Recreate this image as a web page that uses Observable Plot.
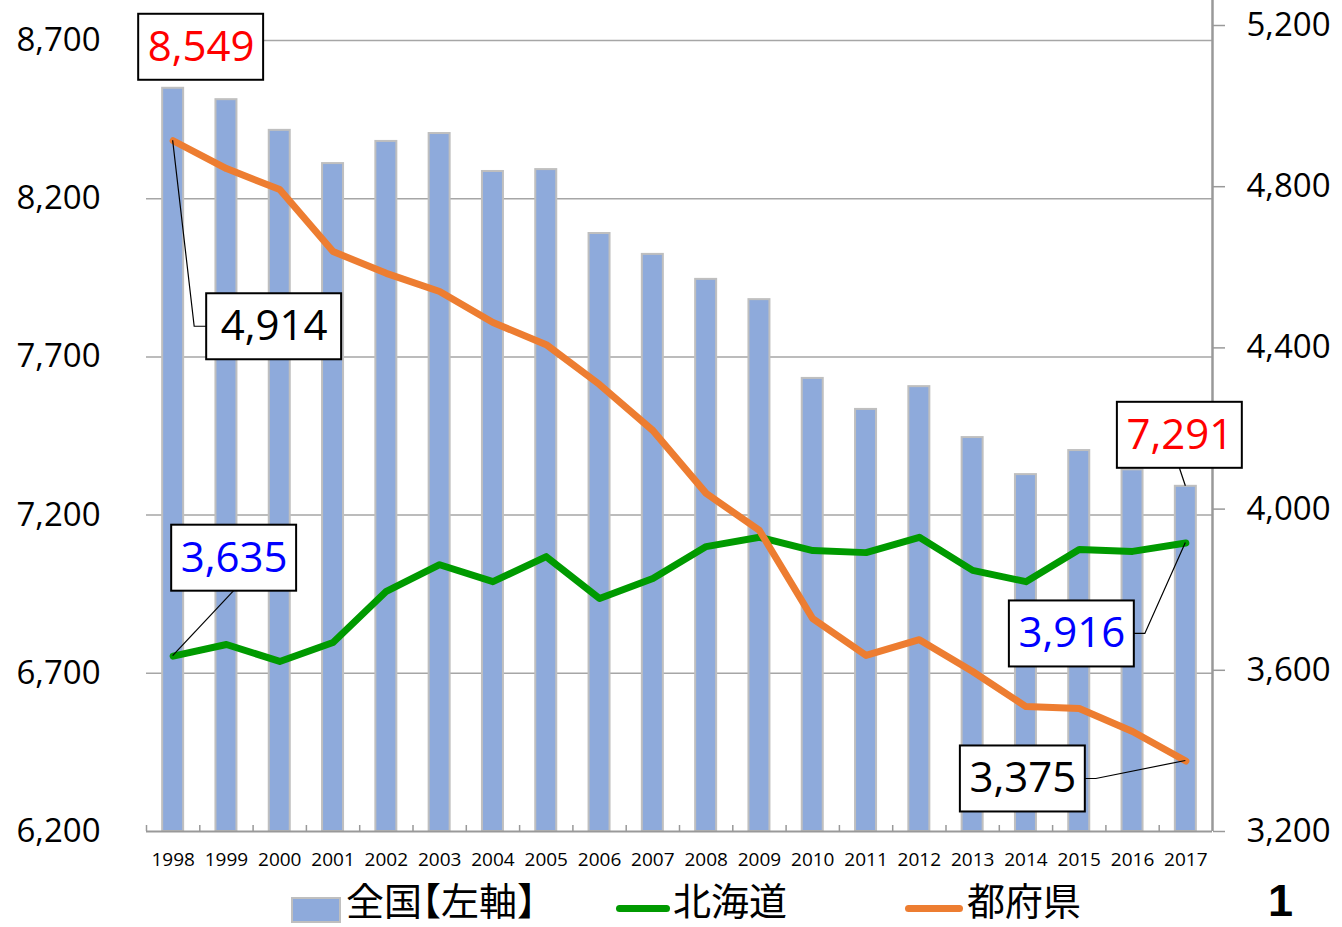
<!DOCTYPE html>
<html><head><meta charset="utf-8">
<script src="https://cdn.jsdelivr.net/npm/d3@7"></script>
<script src="https://cdn.jsdelivr.net/npm/@observablehq/plot@0.6"></script>
<style>
body{margin:0;background:#fff;}
#wrap{position:relative;width:1342px;height:927px;overflow:hidden;}
.lg{position:absolute;font-family:"Noto Sans CJK JP";font-size:38px;line-height:40px;color:#000;white-space:nowrap;}
.br{font-feature-settings:"halt";}
</style></head><body><div id="wrap"></div>
<script>
// ---- data ----
const years = ["1998","1999","2000","2001","2002","2003","2004","2005","2006","2007","2008","2009","2010","2011","2012","2013","2014","2015","2016","2017"];
const zenkoku = [8549, 8513, 8416, 8311, 8381, 8406, 8286, 8292, 8090, 8024, 7945, 7881, 7632, 7534, 7606, 7445, 7328, 7404, 7343, 7291];
const hokkaido = [3635, 3664, 3622, 3669, 3796, 3862, 3820, 3882, 3778, 3828, 3907, 3930, 3897, 3892, 3930, 3848, 3820, 3900, 3895, 3916];
const tofuken = [4914, 4845, 4793, 4639, 4585, 4540, 4463, 4408, 4309, 4195, 4039, 3947, 3728, 3637, 3676, 3597, 3510, 3505, 3448, 3375];
const leftTicks = [6200, 6700, 7200, 7700, 8200, 8700];
const rightTicks = [3200, 3600, 4000, 4400, 4800, 5200];
const seriesNames = ["全国【左軸】", "北海道", "都府県"];
const pageNumber = "1";
// annotation labels
const annSeries = ["zenkoku", "tofuken", "hokkaido", "zenkoku", "hokkaido", "tofuken"];
const annYears = ["1998", "1998", "1998", "2017", "2017", "2017"];
const annValues = [8549, 4914, 3635, 7291, 3916, 3375];
const annColors = ["#ff0000", "#000000", "#0000ff", "#ff0000", "#0000ff", "#000000"];

// ---- layout (pixels) ----
const W = 1342, H = 927;
const plotLeft = 146, plotRight = 1212, plotBottom = 831;
const leftTopTickPx = 40, rightTopTickPx = 25;
const annOffsets = [[28, -41], [101, 186], [61, -98], [-6, -51], [-114, 91], [-163, 18]];
const annPadX = [9, 14, 9, 9, 9, 9];
const annLeaders = ["none", "elbowLeft", "bottom", "bottom", "elbowRight", "elbowRight"];

const leftK = (plotBottom - leftTopTickPx) / (leftTicks.at(-1) - leftTicks[0]);
const rightK = (plotBottom - rightTopTickPx) / (rightTicks.at(-1) - rightTicks[0]);
const toL = r => leftTicks[0] + (r - rightTicks[0]) * rightK / leftK;
const fromL = l => rightTicks[0] + (l - leftTicks[0]) * leftK / rightK;
const yTop = leftTicks[0] + plotBottom / leftK;
const step = (plotRight - plotLeft) / years.length;
const fmt = d3.format(",");

const rows = years.map((y, i) => ({year: y, zenkoku: zenkoku[i], hokkaido: hokkaido[i], tofuken: tofuken[i]}));
const anns = annYears.map((y, i) => ({year: y, series: annSeries[i], value: annValues[i], color: annColors[i],
  ly: annSeries[i] === "zenkoku" ? annValues[i] : toL(annValues[i])}));

const chart = Plot.plot({
  width: W, height: H,
  marginLeft: plotLeft, marginRight: W - plotRight, marginTop: 0, marginBottom: H - plotBottom,
  x: {type: "band", domain: years, paddingInner: 0.606, paddingOuter: 0.303, round: false, axis: null},
  y: {domain: [leftTicks[0], yTop], axis: null},
  style: {fontFamily: "'Open Sans'", color: "#000", background: "#fff", overflow: "visible"},
  marks: [
    Plot.ruleY(leftTicks.slice(1), {stroke: "#a6a6a6", strokeWidth: 1.5}),
    Plot.barY(rows, {x: "year", y1: () => leftTicks[0], y2: "zenkoku", fill: "#8eaadb", stroke: "#bfbfbf", strokeWidth: 2}),
    Plot.ruleY([leftTicks[0]], {stroke: "#999", strokeWidth: 2}),
    Plot.ruleX(years, {x: d => d, dx: -step / 2, y1: leftTicks[0], y2: leftTicks[0] + 6 / leftK, stroke: "#999", strokeWidth: 1.5}),
    Plot.ruleX([years.at(-1)], {x: d => d, dx: step / 2, y1: leftTicks[0], y2: yTop, stroke: "#999", strokeWidth: 2.5}),
    Plot.line(rows, {x: "year", y: d => toL(d.hokkaido), stroke: "#009a00", strokeWidth: 7, strokeLinejoin: "round", strokeLinecap: "round"}),
    Plot.line(rows, {x: "year", y: d => toL(d.tofuken), stroke: "#ed7d31", strokeWidth: 7, strokeLinejoin: "round", strokeLinecap: "round"}),
    Plot.axisY({anchor: "left", ticks: leftTicks, tickSize: 0, tickPadding: 46, fontSize: 33, tickFormat: fmt, label: null}),
    Plot.axisY({anchor: "right", ticks: rightTicks.map(toL), tickSize: 12, tickPadding: 22, fontSize: 33, stroke: "#999", strokeWidth: 1.5,
      tickFormat: d => fmt(Math.round(fromL(d))), label: null}),
    Plot.axisX({anchor: "bottom", tickSize: 0, tickPadding: 21, fontSize: 19, tickFormat: d => d, label: null}),
    ...anns.map((a, i) => Plot.text([a], {x: "year", y: "ly", text: d => fmt(d.value), fill: a.color,
      dx: annOffsets[i][0], dy: annOffsets[i][1], fontSize: 42, fontFamily: "'Open Sans'"}))
  ]
});
const wrap = document.getElementById("wrap");
wrap.appendChild(chart);

// boxes and leader lines for annotations
const xs = chart.scale("x"), ys = chart.scale("y");
const xb = d3.scaleBand(xs.domain, xs.range).paddingInner(xs.paddingInner ?? 0.606).paddingOuter(xs.paddingOuter ?? 0.303).align(xs.align ?? 0.5);
const yl = d3.scaleLinear(ys.domain, ys.range);
const svg = d3.select(chart);
const textGroups = svg.selectAll('g[aria-label="text"]').nodes();
const gAnn = svg.insert("g", () => textGroups[0]);
anns.forEach((a, i) => {
  const ax = xb(a.year) + xb.bandwidth() / 2, ay = yl(a.ly);
  const cx = ax + annOffsets[i][0], cy = ay + annOffsets[i][1];
  const t = textGroups[i].querySelector("text");
  const bw = t.getBBox().width + 2 * annPadX[i], bh = 66;
  let pts = null;
  if (annLeaders[i] === "elbowLeft") pts = [[ax, ay], [cx - bw / 2 - 12, cy], [cx - bw / 2, cy]];
  if (annLeaders[i] === "elbowRight") pts = [[ax, ay], [cx + bw / 2 + 11, cy], [cx + bw / 2, cy]];
  if (annLeaders[i] === "bottom") pts = [[ax, ay], [cx, cy + bh / 2]];
  if (pts) gAnn.append("path").attr("d", d3.line()(pts)).attr("fill", "none").attr("stroke", "#000").attr("stroke-width", 1.2);
  gAnn.append("rect").attr("x", cx - bw / 2).attr("y", cy - bh / 2).attr("width", bw).attr("height", bh)
    .attr("fill", "#fff").attr("stroke", "#000").attr("stroke-width", 2);
});

// legend (below the plot area)
const lg = (html, css, cls) => { const d = document.createElement("div"); d.innerHTML = html; if (cls) d.className = cls; Object.assign(d.style, css); wrap.appendChild(d); return d; };
const bracketed = seriesNames[0].replace("【", '<span class="br">【</span>').replace("】", '<span class="br">】</span>');
lg("", {position: "absolute", left: "291px", top: "897px", width: "46px", height: "22px", background: "#8eaadb", border: "2px solid #bfbfbf"});
lg(bracketed, {left: "346px", top: "879px"}, "lg");
lg("", {position: "absolute", left: "616px", top: "905px", width: "54px", height: "7px", background: "#009a00", borderRadius: "4px"});
lg(seriesNames[1], {left: "673px", top: "879px"}, "lg");
lg("", {position: "absolute", left: "905px", top: "905px", width: "58px", height: "7px", background: "#ed7d31", borderRadius: "4px"});
lg(seriesNames[2], {left: "967px", top: "879px"}, "lg");
lg(pageNumber, {left: "1268px", top: "881px", fontFamily: "'Liberation Sans'", fontWeight: "bold", fontSize: "45px"}, "lg");
</script></body></html>
